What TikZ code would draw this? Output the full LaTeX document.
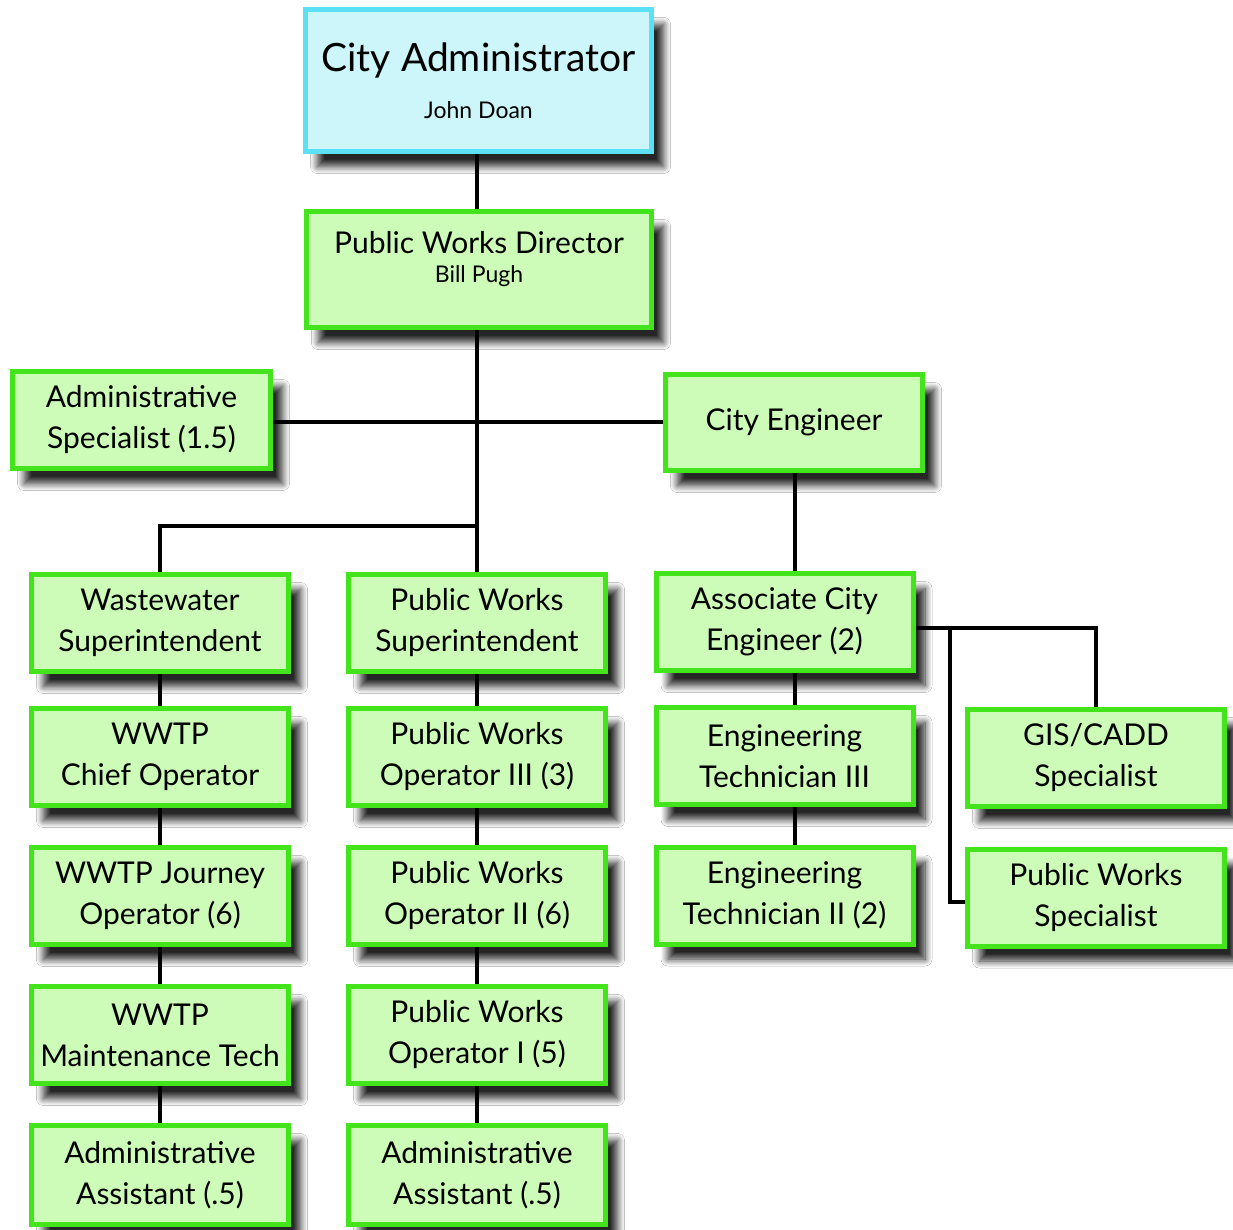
\documentclass[tikz,border=0pt]{standalone}
\usepackage{fontspec}
\setmainfont{Lato}
\usetikzlibrary{shadows.blur}
\definecolor{gborder}{HTML}{44E41C}
\definecolor{gfill}{HTML}{CCFCB8}
\definecolor{cborder}{HTML}{5CE0F5}
\definecolor{cfill}{HTML}{CCF6FA}
\tikzset{
  box/.style={rectangle, draw=gborder, fill=gfill, line width=5pt,
    minimum width=257pt, minimum height=97pt, inner sep=0pt, align=center,
    font=\fontsize{30}{41}\selectfont,
    blur shadow={shadow xshift=12pt, shadow yshift=-15pt, shadow blur radius=7pt, shadow blur steps=12, shadow opacity=85}},
  topbox/.style={box, draw=cborder, fill=cfill},
  conn/.style={line width=4pt, black},
}
\begin{document}
\begin{tikzpicture}[x=1pt,y=-1pt]
\fill[white] (0,0) rectangle (1233,1230);
\useasboundingbox (0,0) rectangle (1233,1230);
% nodes
\node[topbox, minimum width=346pt, minimum height=142pt] (ca) at (478.5,80.5)
  {{\fontsize{39}{46}\selectfont City Administrator}\\[6pt]{\fontsize{23}{28}\selectfont John Doan}};
\node[box, minimum width=345pt, minimum height=116pt] (pwd) at (479,269.5)
  {Public Works Director\\[-12pt]{\fontsize{23}{28}\selectfont Bill Pugh}\\[-16pt]\rule{0pt}{12pt}};
\node[box, minimum width=258pt] (as) at (141.5,420) {Administrative\\Specialist (1.5)};
\node[box, minimum height=96pt] (ce) at (794,422.5) {City Engineer};
\node[box] (ws) at (160,623) {Wastewater\\Superintendent};
\node[box] (pws) at (477,623) {Public Works\\Superintendent};
\node[box] (ace) at (784.5,622) {Associate City\\Engineer (2)};
\node[box] (wco) at (160,757) {WWTP\\Chief Operator};
\node[box] (pw3) at (477,757) {Public Works\\Operator III (3)};
\node[box] (et3) at (784.5,756) {Engineering\\Technician III};
\node[box] (gis) at (1096,758) {GIS/CADD\\Specialist};
\node[box] (wjo) at (160,896) {WWTP Journey\\Operator (6)};
\node[box] (pw2) at (477,896) {Public Works\\Operator II (6)};
\node[box] (et2) at (784.5,895.5) {Engineering\\Technician II (2)};
\node[box] (pwsp) at (1096,897.5) {Public Works\\Specialist};
\node[box] (wmt) at (160,1035) {WWTP\\Maintenance Tech};
\node[box] (pw1) at (477,1035) {Public Works\\Operator I (5)};
\node[box, minimum height=99pt] (aa1) at (160,1175) {Administrative\\Assistant (.5)};
\node[box, minimum height=99pt] (aa2) at (477,1175) {Administrative\\Assistant (.5)};
% junction coordinates
\coordinate (t1) at (477,154);
\coordinate (j1) at (477,422);
\coordinate (j2) at (477,526);
\coordinate (j3) at (160,526);
\coordinate (k1) at (950,628);
\coordinate (k2) at (1096,628);
\coordinate (k3) at (950,902);
% connectors
\draw[conn] (t1) -- (t1 |- pwd.north);
\draw[conn] (j1 |- pwd.south) -- (j1 |- pws.north);
\draw[conn] (as.east |- j1) -- (ce.west |- j1);
\draw[conn] (j2) -- (j3) -- (j3 |- ws.north);
\draw[conn] (795,0 |- ce.south) -- (795,0 |- ace.north);
\draw[conn] (ace.east |- k1) -- (k2) -- (k2 |- gis.north);
\draw[conn] (k1) -- (k3) -- (pwsp.west |- k3);
\foreach \a/\b in {ws/wco, wco/wjo, wjo/wmt, wmt/aa1}
  \draw[conn] (160,0 |- \a.south) -- (160,0 |- \b.north);
\foreach \a/\b in {pws/pw3, pw3/pw2, pw2/pw1, pw1/aa2}
  \draw[conn] (477,0 |- \a.south) -- (477,0 |- \b.north);
\foreach \a/\b in {ace/et3, et3/et2}
  \draw[conn] (795,0 |- \a.south) -- (795,0 |- \b.north);
\end{tikzpicture}
\end{document}
